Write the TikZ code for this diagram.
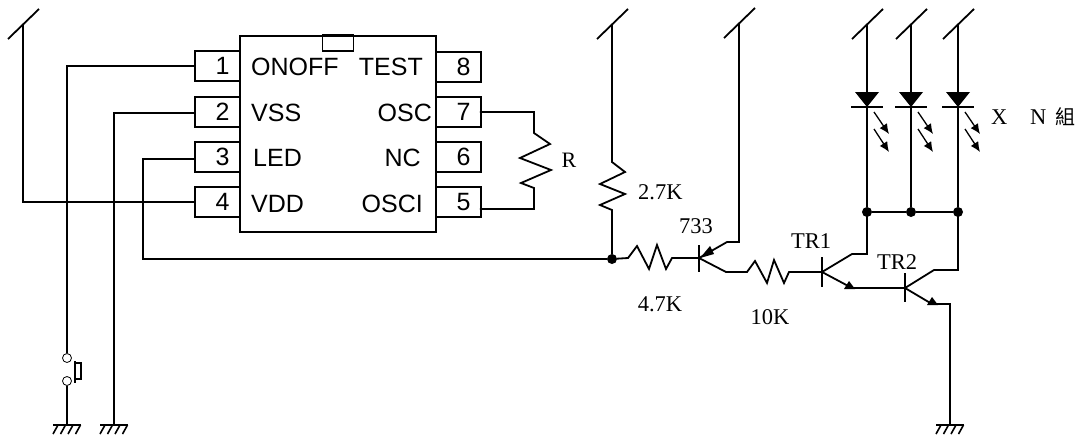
\documentclass[tikz,border=0pt]{standalone}
\usepackage{fontspec}
\setmainfont{Liberation Serif}
\setsansfont{Liberation Sans}
\newfontfamily\cjkfont{Noto Sans CJK TC}
\usetikzlibrary{positioning, arrows.meta}

\tikzset{
    wire/.style={line width=1.8pt},
    pinbox/.style={draw, line width=1.8pt, minimum width=45pt, minimum height=30pt, inner sep=0pt,
        font=\sffamily\fontsize{25}{30}\selectfont, execute at begin node=\hspace*{10pt}},
    chiplabel/.style={inner sep=0pt, font=\sffamily\fontsize{25}{30}\selectfont},
    value/.style={inner sep=0pt, font=\fontsize{22.5}{26}\selectfont},
    dot/.style={circle, fill, inner sep=0pt, minimum size=10pt},
    contact/.style={circle, draw, fill=white, line width=0.8pt, inner sep=0pt, minimum size=9pt},
    glow/.style={line width=1.3pt, -{Latex[length=10pt,width=9pt]}},
    gnd/.pic={
        \draw[wire] (-14,0) -- (14,0);
        \foreach \i in {-9,-1.5,6,13.5} \draw[line width=1.6pt] (\i,0) -- ++(-5,9);
    },
    vcc/.pic={
        \draw[wire] (-15,15) -- (16,-15);
    },
    led/.pic={
        \fill (-12,-15) -- (12,-15) -- (0,0) -- cycle;
        \draw[wire] (-16,0) -- (16,0);
        \draw[glow] (7,5) -- (22,27);
        \draw[glow] (7,22) -- (22,45);
    },
}

\begin{document}
\begin{tikzpicture}[x=1pt, y=-1pt]
    \useasboundingbox (0,0) rectangle (1084,440);

    \node[pinbox] (pin1) at (217.5,66) {1};
    \node[pinbox] (pin2) at (217.5,112) {2};
    \node[pinbox] (pin3) at (217.5,157) {3};
    \node[pinbox] (pin4) at (217.5,202) {4};
    \node[pinbox] (pin8) at (458.5,67) {8};
    \node[pinbox] (pin7) at (458.5,112) {7};
    \node[pinbox] (pin6) at (458.5,157) {6};
    \node[pinbox] (pin5) at (458.5,202) {5};

    \node[draw, wire, minimum width=196pt, minimum height=196pt] (chip) at (338,134) {};
    \node[draw, wire, minimum width=31pt, minimum height=16pt, below=0pt of chip.north, yshift=0.9pt] (notch) {};

    \node[chiplabel, anchor=west] at (251,67) {ONOFF};
    \node[chiplabel, anchor=west] at (251,113) {VSS};
    \node[chiplabel, anchor=west] at (253,158) {LED};
    \node[chiplabel, anchor=west] at (251,204) {VDD};
    \node[chiplabel, anchor=east] at (423,67) {TEST};
    \node[chiplabel, anchor=east] at (432,113) {OSC};
    \node[chiplabel, anchor=east] at (421,158) {NC};
    \node[chiplabel, anchor=east] at (423,204) {OSCI};

    % supply rails
    \coordinate (vcc1) at (23,24);
    \coordinate (vcc2) at (612,24);
    \coordinate (vcc3) at (739,23);
    \coordinate (vcc4) at (867,24);
    \coordinate (vcc5) at (911,24);
    \coordinate (vcc6) at (958,24);
    \foreach \n in {1,...,6} \pic at (vcc\n) {vcc};

    % grounds
    \coordinate (gnd1) at (67,425);
    \coordinate (gnd2) at (114,425);
    \coordinate (gnd3) at (950,425);
    \foreach \n in {1,2,3} \pic at (gnd\n) {gnd};

    % switch
    \node[contact] (swa) at (67,358) {};
    \node[contact] (swb) at (67,381) {};
    \draw[wire] (pin1.west) -| (swa.north);
    \draw[wire] (swb.south) -- (gnd1);
    \draw[wire] (75,361) -- (75,383);
    \draw[wire] (75,363) -| (81,379) -- (75,379);

    \draw[wire] ([yshift=-1pt]pin2.west) -| (gnd2);
    \draw[wire] (pin4.west) -| (vcc1);

    % R
    \coordinate (rtop) at (534,112);
    \coordinate (rbot) at (534,209);
    \draw[wire] ([xshift=-2pt]pin7.east) -- (rtop) -- (534,133) -- (550,144) -- (520,158) -- (551,170)
        -- (521,183) -- (534,188) -- (rbot) -- ([xshift=-2pt,yshift=-7pt]pin5.east);
    \node[value, font=\fontsize{22}{26}\selectfont] (rlabel) at (569,160) {R};

    % base drive
    \node[dot] (junction) at (612,259) {};
    \coordinate (q1b) at (699,258);
    \coordinate (q2b) at (822,272);
    \coordinate (q3b) at (905,288);
    \draw[wire] ([yshift=-2pt]pin3.west) -| (143,259) -- (junction);
    \draw[wire] (vcc2) -- (612,162) -- (625,172) -- (600,184) -- (625,194) -- (600,205) -- (612,210) -- (junction);
    \draw[wire] (junction) -- (628,258) -- (637,246) -- (649,269) -- (657,245) -- (666,269) -- (672,258) -- (q1b);

    % 733
    \draw[wire] (699,245) -- (699,272);
    \draw[wire] (vcc3) -- (739,242) -- (727,242) -- (q1b);
    \fill (700,258) -- (710,246) -- (714,254) -- cycle;
    \draw[wire] (q1b) -- (726,272) -- (747,272) -- (755,261) -- (767,283) -- (774,260) -- (784,283) -- (789,272) -- (q2b);

    % TR1
    \draw[wire] (822,257) -- (822,287);
    \coordinate (bus1) at (867,212);
    \draw[wire] (q2b) -- (852,254) -- (867,254) -- (bus1);
    \draw[wire] (q2b) -- (852,288) -- (q3b);
    \fill (844,289) -- (855,289) -- (849,281) -- cycle;

    % TR2
    \draw[wire] (905,273) -- (905,302);
    \coordinate (bus3) at (958,212);
    \draw[wire] (q3b) -- (934,270) -- (958,270) -- (bus3);
    \draw[wire] (q3b) -- (932,304) -- (950,304) -- (gnd3);
    \fill (927,305) -- (938,305) -- (932,297) -- cycle;

    % LED bank
    \node[dot] (d1) at (bus1) {};
    \node[dot] (d2) at (911,212) {};
    \node[dot] (d3) at (bus3) {};
    \draw[wire] (d1) -- (d2) -- (d3);
    \draw[wire] (vcc4) -- (d1);
    \draw[wire] (vcc5) -- (d2);
    \draw[wire] (vcc6) -- (d3);
    \pic at (867,107) {led};
    \pic at (911,107) {led};
    \pic at (958,107) {led};

    \node[value, anchor=west] at (638,192) {2.7K};
    \node[value] at (696,226) {733};
    \node[value] at (660,304) {4.7K};
    \node[value] at (770,317) {10K};
    \node[value] at (811,241) {TR1};
    \node[value] at (897,262) {TR2};
    \node[value, anchor=west] at (991,117) {X};
    \node[value, anchor=west] at (1030,117) {N};
    \node[value, anchor=west, font=\cjkfont\fontsize{20}{24}\selectfont] at (1055,117) {組};
\end{tikzpicture}
\end{document}
